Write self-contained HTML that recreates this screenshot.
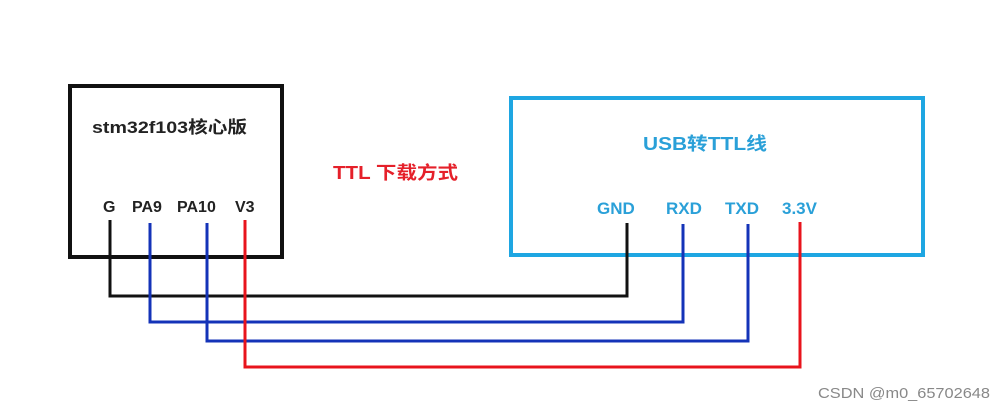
<!DOCTYPE html>
<html><head><meta charset="utf-8"><style>
html,body{margin:0;padding:0;background:#fff;}
svg text{font-family:"Liberation Sans","Noto Sans CJK SC",sans-serif;font-weight:bold;}
</style></head><body>
<svg width="1008" height="411" viewBox="0 0 1008 411" xmlns="http://www.w3.org/2000/svg">
<rect x="70" y="86" width="212" height="171" fill="none" stroke="#111" stroke-width="4"/>
<rect x="511" y="98" width="412" height="157" fill="none" stroke="#1ea6e2" stroke-width="4"/>
<text x="92" y="133" font-size="17" fill="#222" textLength="155" lengthAdjust="spacingAndGlyphs">stm32f103核心版</text>
<text x="103" y="212" font-size="16" fill="#222">G</text>
<text x="132" y="212" font-size="16" fill="#222">PA9</text>
<text x="177" y="212" font-size="16" fill="#222">PA10</text>
<text x="235" y="212" font-size="16" fill="#222">V3</text>
<text x="333" y="179" font-size="18" fill="#e5202a" textLength="125" lengthAdjust="spacingAndGlyphs">TTL 下载方式</text>
<text x="643" y="150" font-size="18" fill="#2aa0d8" textLength="124" lengthAdjust="spacingAndGlyphs">USB转TTL线</text>
<text x="597" y="214" font-size="17" fill="#2aa0d8">GND</text>
<text x="666" y="214" font-size="17" fill="#2aa0d8">RXD</text>
<text x="725" y="214" font-size="17" fill="#2aa0d8">TXD</text>
<text x="782" y="214" font-size="17" fill="#2aa0d8">3.3V</text>
<g fill="none" stroke-width="3" stroke-linejoin="miter">
<polyline points="110,220 110,296 627,296 627,223" stroke="#111"/>
<polyline points="150,223 150,322 683,322 683,224" stroke="#1433b8"/>
<polyline points="207,223 207,341 748,341 748,224" stroke="#1433b8"/>
<polyline points="245,220 245,367 800,367 800,222" stroke="#e8141c"/>
</g>
<text x="818" y="398" font-size="15" style="font-weight:normal" fill="#888" textLength="172" lengthAdjust="spacingAndGlyphs">CSDN @m0_65702648</text>
</svg>
</body></html>
